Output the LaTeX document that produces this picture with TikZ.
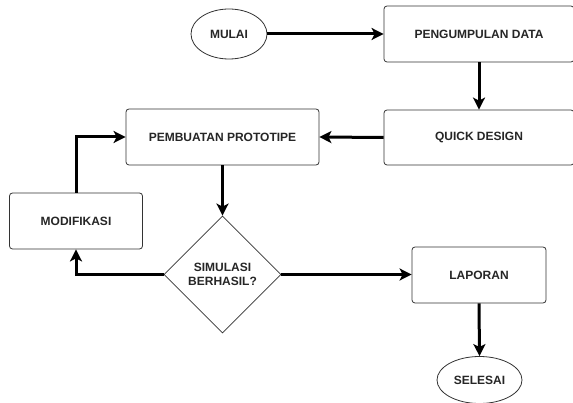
\documentclass[tikz,border=0pt]{standalone}
\usepackage{fontspec}
\setmainfont{Liberation Sans}
\usetikzlibrary{arrows.meta,shapes.geometric}
\begin{document}
\begin{tikzpicture}[x=1pt,y=-1pt,
  lbl/.style={font=\fontsize{12}{14}\selectfont\bfseries,text=black!85,align=center,inner sep=0pt},
  box/.style={lbl,draw=black!80,line width=0.8pt,rounded corners=3pt,fill=white},
  oval/.style={lbl,draw=black!80,line width=0.8pt,ellipse,fill=white},
  dia/.style={lbl,draw=black!80,line width=0.8pt,diamond,fill=white},
  flow/.style={line width=3pt,-{Stealth[length=12pt,width=12pt,inset=3pt]}}]
\useasboundingbox (0,0) rectangle (573,403);
\node[oval,minimum width=76pt,minimum height=50pt] (mulai) at (229,34) {MULAI};
\node[box,minimum width=190pt,minimum height=56pt] (data) at (479,34) {PENGUMPULAN DATA};
\node[box,minimum width=190pt,minimum height=55pt] (quick) at (479,137.5) {QUICK DESIGN};
\node[box,minimum width=193pt,minimum height=56pt] (proto) at (222.5,137) {PEMBUATAN PROTOTIPE};
\node[box,minimum width=133pt,minimum height=56pt] (modif) at (76,221) {MODIFIKASI};
\node[dia,minimum width=117pt,minimum height=117pt] (sim) at (222.5,274.5) {SIMULASI\\BERHASIL?};
\node[box,minimum width=134pt,minimum height=56pt] (lap) at (479,275) {LAPORAN};
\node[oval,minimum width=85pt,minimum height=47pt] (sel) at (479.5,380) {SELESAI};
\draw[flow] (mulai.east) -- (data.west);
\draw[flow] (data.south) -- (quick.north);
\draw[flow] (quick.west) -- (proto.east);
\draw[flow] (proto.south) -- (sim.north);
\draw[flow] (sim.east) -- (sim.east -| lap.west);
\draw[flow] (sim.west) -| (modif.south);
\draw[flow] (modif.north) |- (proto.west);
\draw[flow] (lap.south) -- (sel.north);
\end{tikzpicture}
\end{document}
